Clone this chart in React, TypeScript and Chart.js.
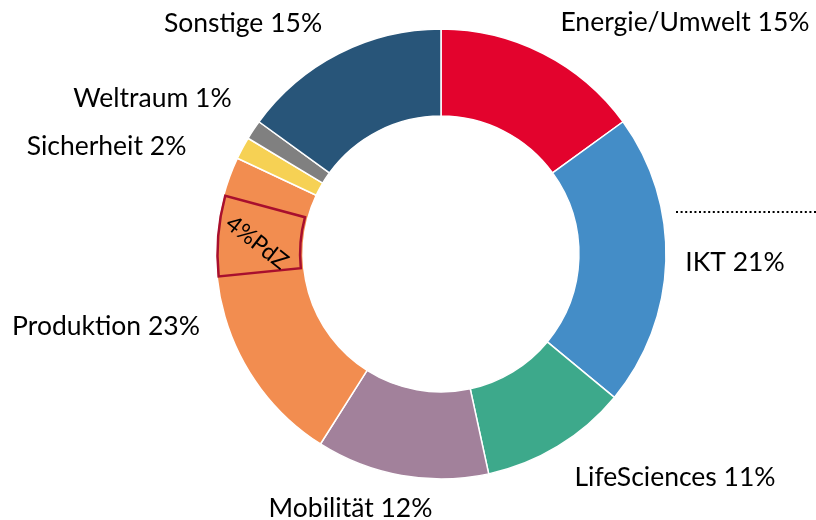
import React, { useEffect, useRef } from "react";
import { Chart, registerables } from "chart.js";

Chart.register(...registerables);

const categories = [
  "Energie/Umwelt",
  "IKT",
  "LifeSciences",
  "Mobilität",
  "Produktion",
  "Sicherheit",
  "Weltraum",
  "Sonstige",
];
const shares = [15, 21, 10.6, 12.4, 23, 1.6, 1.4, 15];
const colors = [
  "#E3032D",
  "#448DC7",
  "#3DA98B",
  "#A2819B",
  "#F28D50",
  "#F6D154",
  "#808080",
  "#285579",
];

// PdZ sub-portion inside "Produktion" (percent positions around the ring)
const pdzLabel = "4%PdZ";
const pdzRange = [73.4, 79.2];

// label anchor offsets relative to chart centre (text centre x, baseline y)
const labelOffsets: [number, number][] = [
  [244, -223],
  [294, 17],
  [234, 232],
  [-90.5, 263],
  [-335, 81],
  [-334.5, -99],
  [-288.5, -147],
  [-198, -222],
];

const FONT = "Lato, 'Open Sans', sans-serif";

const decoPlugin = {
  id: "deco",
  afterDraw(chart: any) {
    const meta = chart.getDatasetMeta(0);
    const arc0: any = meta.data[0];
    if (!arc0) return;
    const cx = arc0.x;
    const cy = arc0.y;
    const outer = arc0.outerRadius;
    const inner = arc0.innerRadius;
    const start = arc0.startAngle;
    const ctx = chart.ctx as CanvasRenderingContext2D;
    ctx.save();

    // labels
    ctx.fillStyle = "#000";
    ctx.font = `26.5px ${FONT}`;
    ctx.textAlign = "center";
    ctx.textBaseline = "alphabetic";
    categories.forEach((c, i) => {
      const [dx, dy] = labelOffsets[i];
      ctx.fillText(`${c} ${Math.round(shares[i])}%`, cx + dx, cy + dy);
    });

    // PdZ outline
    const a0 = start + (pdzRange[0] / 100) * Math.PI * 2;
    const a1 = start + (pdzRange[1] / 100) * Math.PI * 2;
    ctx.beginPath();
    ctx.arc(cx, cy, outer - 1.5, a0, a1);
    ctx.arc(cx, cy, inner + 3, a1, a0, true);
    ctx.closePath();
    ctx.strokeStyle = "#A80F2E";
    ctx.lineWidth = 2.5;
    ctx.stroke();

    // PdZ text
    const mid = (a0 + a1) / 2 - 0.02;
    const r = (outer + inner) / 2 + 3;
    ctx.translate(cx + r * Math.cos(mid), cy + r * Math.sin(mid));
    ctx.rotate(0.66);
    ctx.font = `23px ${FONT}`;
    ctx.textAlign = "center";
    ctx.textBaseline = "middle";
    ctx.fillText(pdzLabel, 0, 0);
    ctx.setTransform(1, 0, 0, 1, 0, 0);

    // dotted line
    ctx.beginPath();
    ctx.setLineDash([2, 2.6]);
    ctx.lineWidth = 2;
    ctx.strokeStyle = "#000";
    ctx.moveTo(cx + 235, cy - 42);
    ctx.lineTo(chart.width, cy - 42);
    ctx.stroke();
    ctx.restore();
  },
};

export default function App() {
  const ref = useRef<HTMLCanvasElement | null>(null);
  useEffect(() => {
    if (!ref.current) return;
    const chart = new Chart(ref.current, {
      type: "doughnut",
      data: {
        labels: categories,
        datasets: [
          {
            data: shares,
            backgroundColor: colors,
            borderColor: "#ffffff",
            borderWidth: 1.5,
          },
        ],
      },
      options: {
        responsive: false,
        animation: false,
        radius: 225,
        cutout: "61.3%",
        layout: { padding: { left: 216, right: 150, top: 29, bottom: 41 } },
        plugins: { legend: { display: false }, tooltip: { enabled: false } },
      } as any,
      plugins: [decoPlugin],
    });
    return () => chart.destroy();
  }, []);
  return (
    <div style={{ position: "fixed", left: 0, top: 0, width: 816, height: 520, background: "#fff" }}>
      <canvas ref={ref} width={816} height={520} />
    </div>
  );
}
